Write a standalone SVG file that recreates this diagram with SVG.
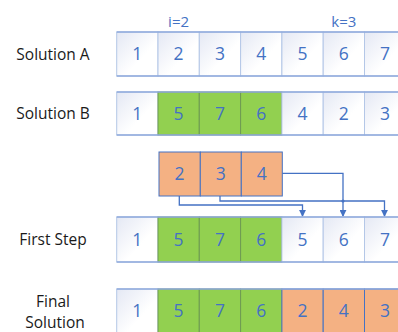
<svg xmlns="http://www.w3.org/2000/svg" width="398" height="332" viewBox="0 0 398 332">
<defs>
<linearGradient id="wg" x1="0" y1="0" x2="1" y2="1">
<stop offset="0" stop-color="#e4e8f4"/>
<stop offset="0.6" stop-color="#ffffff"/>
</linearGradient>
<marker id="ah" viewBox="0 0 8 8" refX="7" refY="4" markerWidth="7" markerHeight="7" markerUnits="userSpaceOnUse" orient="auto">
<path d="M0,0 L8,4 L0,8 Z" fill="#4472c4"/>
</marker>
<style>
.lbl{font-family:"Open Sans","Liberation Sans",Arial,sans-serif;font-size:15.5px;fill:#1a1a1a;text-anchor:middle}
.num{font-family:"Open Sans","Liberation Sans",Arial,sans-serif;font-size:17.5px;fill:#4472c4;text-anchor:middle}
.idx{font-family:"Open Sans","Liberation Sans",Arial,sans-serif;font-size:15px;fill:#4472c4;text-anchor:middle}
.w{fill:url(#wg);stroke:#b4c7e7;stroke-width:1}
.g{fill:#92d050;stroke:#6e9a52;stroke-width:1}
.o{fill:#f4b183;stroke:#4472c4;stroke-width:1}
.edge{stroke:#8faadc;stroke-width:1.3}
.conn{fill:none;stroke:#4472c4;stroke-width:1.3}
</style>
</defs>

<text class="idx" x="178.6" y="26.5">i=2</text>
<text class="idx" x="343.8" y="26.5">k=3</text>

<g id="rowA">
<text class="lbl" x="53" y="59.5">Solution A</text>
<rect class="w" x="116.7" y="32" width="41.3" height="44"/>
<rect class="w" x="158" y="32" width="41.3" height="44"/>
<rect class="w" x="199.3" y="32" width="41.3" height="44"/>
<rect class="w" x="240.6" y="32" width="41.3" height="44"/>
<rect class="w" x="281.9" y="32" width="41.3" height="44"/>
<rect class="w" x="323.2" y="32" width="41.3" height="44"/>
<rect class="w" x="364.5" y="32" width="41.3" height="44"/>
<line class="edge" x1="116.7" y1="32" x2="398" y2="32"/>
<line class="edge" x1="116.7" y1="76" x2="398" y2="76"/>
<text class="num" x="137.3" y="60">1</text>
<text class="num" x="178.6" y="60">2</text>
<text class="num" x="220" y="60">3</text>
<text class="num" x="261.2" y="60">4</text>
<text class="num" x="302.5" y="60">5</text>
<text class="num" x="343.8" y="60">6</text>
<text class="num" x="385.1" y="60">7</text>
</g>

<g id="rowB">
<text class="lbl" x="53" y="119">Solution B</text>
<rect class="w" x="116.7" y="92" width="41.3" height="43"/>
<rect class="g" x="158" y="92" width="41.3" height="43"/>
<rect class="g" x="199.3" y="92" width="41.3" height="43"/>
<rect class="g" x="240.6" y="92" width="41.3" height="43"/>
<rect class="w" x="281.9" y="92" width="41.3" height="43"/>
<rect class="w" x="323.2" y="92" width="41.3" height="43"/>
<rect class="w" x="364.5" y="92" width="41.3" height="43"/>
<line class="edge" x1="116.7" y1="92" x2="398" y2="92"/>
<line class="edge" x1="116.7" y1="135" x2="398" y2="135"/>
<text class="num" x="137.3" y="119.5">1</text>
<text class="num" x="178.6" y="119.5">5</text>
<text class="num" x="220" y="119.5">7</text>
<text class="num" x="261.2" y="119.5">6</text>
<text class="num" x="302.5" y="119.5">4</text>
<text class="num" x="343.8" y="119.5">2</text>
<text class="num" x="385.1" y="119.5">3</text>
</g>

<g id="segment">
<rect class="o" x="159" y="152" width="41.3" height="44"/>
<rect class="o" x="200.3" y="152" width="41" height="44"/>
<rect class="o" x="241.3" y="152" width="41" height="44"/>
<text class="num" x="179.6" y="180">2</text>
<text class="num" x="220.8" y="180">3</text>
<text class="num" x="261.8" y="180">4</text>
</g>

<g id="connectors">
<path class="conn" d="M179.3,196 V205 H302.5 V216" marker-end="url(#ah)"/>
<path class="conn" d="M220,196 V201 H384.5 V216" marker-end="url(#ah)"/>
<path class="conn" d="M282.3,173.3 H343 V216" marker-end="url(#ah)"/>
<circle cx="343" cy="201" r="1.6" fill="#4472c4"/>
</g>

<g id="rowFirst">
<text class="lbl" x="53" y="245">First Step</text>
<rect class="w" x="116.7" y="217" width="41.3" height="45"/>
<rect class="g" x="158" y="217" width="41.3" height="45"/>
<rect class="g" x="199.3" y="217" width="41.3" height="45"/>
<rect class="g" x="240.6" y="217" width="41.3" height="45"/>
<rect class="w" x="281.9" y="217" width="41.3" height="45"/>
<rect class="w" x="323.2" y="217" width="41.3" height="45"/>
<rect class="w" x="364.5" y="217" width="41.3" height="45"/>
<line class="edge" x1="116.7" y1="217" x2="398" y2="217"/>
<line class="edge" x1="116.7" y1="262" x2="398" y2="262"/>
<text class="num" x="137.3" y="245.5">1</text>
<text class="num" x="178.6" y="245.5">5</text>
<text class="num" x="220" y="245.5">7</text>
<text class="num" x="261.2" y="245.5">6</text>
<text class="num" x="302.5" y="245.5">5</text>
<text class="num" x="343.8" y="245.5">6</text>
<text class="num" x="385.1" y="245.5">7</text>
</g>

<g id="rowFinal">
<text class="lbl" x="53" y="307">Final</text>
<text class="lbl" x="55" y="328">Solution</text>
<rect class="w" x="116.7" y="289" width="41.3" height="46"/>
<rect class="g" x="158" y="289" width="41.3" height="46"/>
<rect class="g" x="199.3" y="289" width="41.3" height="46"/>
<rect class="g" x="240.6" y="289" width="41.3" height="46"/>
<rect class="o" x="281.9" y="289" width="41.3" height="46"/>
<rect class="o" x="323.2" y="289" width="41.3" height="46"/>
<rect class="o" x="364.5" y="289" width="41.3" height="46"/>
<line class="edge" x1="116.7" y1="289" x2="398" y2="289"/>
<text class="num" x="137.3" y="317">1</text>
<text class="num" x="178.6" y="317">5</text>
<text class="num" x="220" y="317">7</text>
<text class="num" x="261.2" y="317">6</text>
<text class="num" x="302.5" y="317">2</text>
<text class="num" x="343.8" y="317">4</text>
<text class="num" x="385.1" y="317">3</text>
</g>
</svg>
